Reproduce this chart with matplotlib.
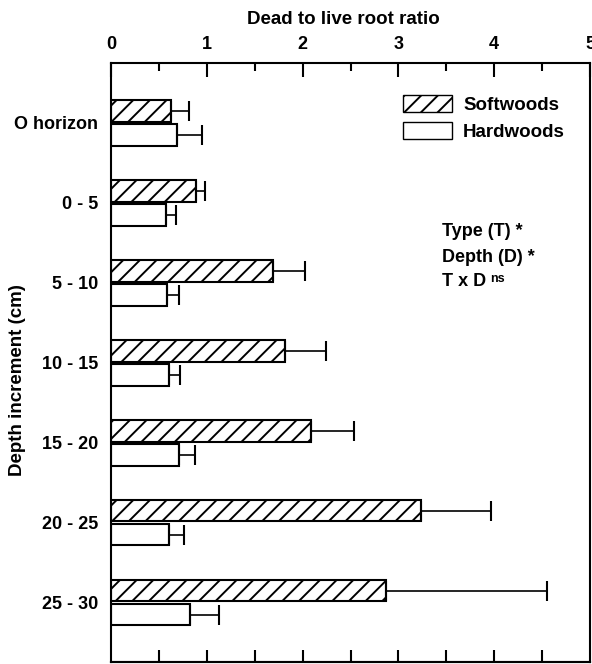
import numpy as np
import matplotlib
matplotlib.use('Agg')
import matplotlib.pyplot as plt
from matplotlib.patches import Patch

plt.rcParams['font.family'] = ['Liberation Sans', 'DejaVu Sans']
plt.rcParams['font.weight'] = 'bold'
plt.rcParams['hatch.linewidth'] = 1.4

# Data
depths = ['O horizon', '0 - 5', '5 - 10', '10 - 15', '15 - 20', '20 - 25', '25 - 30']
soft_mean = [0.63, 0.89, 1.69, 1.82, 2.09, 3.24, 2.87]
soft_err = [0.18, 0.09, 0.34, 0.42, 0.45, 0.73, 1.68]
hard_mean = [0.69, 0.57, 0.58, 0.61, 0.71, 0.61, 0.82]
hard_err = [0.26, 0.11, 0.13, 0.11, 0.17, 0.15, 0.31]

fig = plt.figure(figsize=(5.92, 6.64), dpi=100)
ax = fig.add_axes([111/592, 1 - 662/664, 479/592, 599/664])

y = np.arange(len(depths))
h = 0.266
off = 0.15
ek = dict(ecolor='black', elinewidth=1.2, capsize=7, capthick=1.5)

ax.barh(y - off, soft_mean, height=h, color='white', edgecolor='black',
        linewidth=1.5, hatch='//', xerr=[np.zeros(len(y)), soft_err], error_kw=ek)
ax.barh(y + off, hard_mean, height=h, color='white', edgecolor='black',
        linewidth=1.5, xerr=[np.zeros(len(y)), hard_err], error_kw=ek)

ax.set_xlim(0, 5)
ax.set_ylim(6.74, -0.75)
ax.set_yticks(y)
ax.set_yticklabels(depths, fontsize=13)
ax.tick_params(axis='y', length=0, pad=9)

# top axis with labels
ax.xaxis.tick_top()
ax.set_xticks(np.arange(0, 6, 1))
ax.set_xticks(np.arange(0.5, 5, 1), minor=True)
ax.tick_params(axis='x', which='major', direction='in', length=10, width=1.5,
               labelsize=13, pad=7)
ax.tick_params(axis='x', which='minor', direction='in', length=6, width=1.5)

# bottom ticks, no labels
sec = ax.secondary_xaxis('bottom')
sec.set_xticks(np.arange(0.5, 5, 0.5))
sec.set_xticklabels([])
sec.tick_params(direction='in', length=9, width=1.5)

for s in ax.spines.values():
    s.set_linewidth(1.5)
sec.spines['bottom'].set_linewidth(1.5)

fig.text(343/592, 1 - 19/664, 'Dead to live root ratio', fontsize=13.5,
         ha='center', va='center')
fig.text(18/592, 1 - 380/664, 'Depth increment (cm)', fontsize=13.5,
         rotation=90, ha='center', va='center')

handles = [Patch(facecolor='white', edgecolor='black', hatch='//', linewidth=1),
           Patch(facecolor='white', edgecolor='black', linewidth=1)]
fig.legend(handles, ['Softwoods', 'Hardwoods'], loc='upper left',
           bbox_to_anchor=(403/592, 1 - 95/664), frameon=False, fontsize=13.5,
           handlelength=2.6, handleheight=1.0, handletextpad=0.6,
           labelspacing=0.45, borderpad=0, borderaxespad=0)

fig.text(442/592, 1 - 232/664, 'Type (T) *', fontsize=13, va='center')
fig.text(442/592, 1 - 258/664, 'Depth (D) *', fontsize=13, va='center')
t = fig.text(442/592, 1 - 282/664, 'T x D', fontsize=13, va='center')
fig.canvas.draw()
ax.annotate('ns', xy=(1, 1), xycoords=t, xytext=(3, 0), textcoords='offset points',
            fontsize=9, va='top')

fig.savefig('out.png', dpi=100)
